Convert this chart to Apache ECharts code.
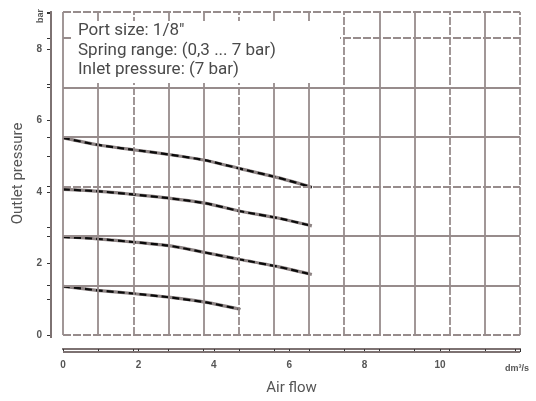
<!DOCTYPE html>
<html>
<head>
<meta charset="utf-8">
<script src="https://cdn.jsdelivr.net/npm/echarts@6/dist/echarts.min.js"></script>
<style>
  html, body { margin: 0; padding: 0; background: #fff; }
  #main { width: 536px; height: 401px; }
</style>
</head>
<body>
<div id="main"></div>
<script>
// air flow (dm3/s) points, shared by the first three curves
var flow = [0, 0.9, 1.85, 2.85, 3.8, 4.7, 5.7, 6.6];
var flowShort = [0, 0.9, 1.85, 2.85, 3.8, 4.7];
// outlet pressure (bar) for each curve
var curve55 = [5.51, 5.32, 5.18, 5.04, 4.88, 4.65, 4.40, 4.13];
var curve40 = [4.07, 4.02, 3.93, 3.82, 3.68, 3.46, 3.27, 3.05];
var curve27 = [2.74, 2.69, 2.60, 2.49, 2.30, 2.11, 1.91, 1.69];
var curve13 = [1.36, 1.25, 1.16, 1.05, 0.91, 0.72];

var xLabels = [0, 2, 4, 6, 8, 10];
var yLabels = [0, 2, 4, 6, 8];

// the printed grid does not follow the scale: 13 columns, 6.5 rows
var gridCols = 13;
var gridRows = 6.52;

var infoLines = ['Port size: 1/8"', 'Spring range: (0,3 ... 7 bar)', 'Inlet pressure: (7 bar)'];

var gridColor = '#978c8c';
var axisColor = '#7d7272';
var chart = echarts.init(document.getElementById('main'));

function pairs(xs, ys) {
  return ys.map(function (v, i) { return [xs[i], v]; });
}

// grid lines, every third one dashed like the scan
var gridLines = [];
for (var i = 0; i <= gridCols; i++) {
  var dashedX = (i % 3 === 2) || i === gridCols;
  gridLines.push({ xAxis: i, lineStyle: { type: dashedX ? [8, 2] : 'solid' } });
}
for (var j = 0; j <= 6; j++) {
  gridLines.push({ yAxis: j, lineStyle: { type: (j % 3 === 0) ? [8, 2] : 'solid' } });
}
gridLines.push({ yAxis: gridRows, lineStyle: { type: [8, 2] } });

var curves = [
  pairs(flow, curve55),
  pairs(flow, curve40),
  pairs(flow, curve27),
  pairs(flowShort, curve13)
];

var series = [{
  type: 'line',
  xAxisIndex: 1,
  yAxisIndex: 1,
  data: [],
  silent: true,
  markLine: {
    silent: true,
    symbol: ['none', 'none'],
    label: { show: false },
    lineStyle: { color: gridColor, width: 1.8 },
    data: gridLines
  }
}];

curves.forEach(function (c) {
  // grey smear under the black dashes
  series.push({
    type: 'line', data: c, smooth: 0.2, showSymbol: false, z: 3,
    lineStyle: { color: '#8e8484', width: 3.2 }
  });
  series.push({
    type: 'line', data: c, smooth: 0.2, showSymbol: false, z: 4,
    lineStyle: { color: '#0a0a0a', width: 2.2, type: [7, 4] }
  });
});

var axisLine = { show: true, onZero: false, lineStyle: { color: axisColor, width: 2 } };

var option = {
  animation: false,
  grid: { left: 63, right: 16, top: 12, bottom: 63 },
  xAxis: [{
    type: 'value', min: 0, max: 12.12, interval: 2, position: 'bottom', offset: 14,
    axisLine: axisLine,
    axisTick: { show: true, length: 3, lineStyle: { color: '#333' } },
    axisLabel: {
      color: '#555', fontSize: 10, fontWeight: 'bold', margin: 11,
      formatter: function (v) { return xLabels.indexOf(v) >= 0 ? String(v) : ''; }
    },
    splitLine: { show: false },
    name: 'Air flow', nameLocation: 'middle', nameGap: 32,
    nameTextStyle: { color: '#555', fontSize: 15, fontFamily: 'Roboto' }
  }, {
    type: 'value', min: 0, max: gridCols, interval: 1, position: 'bottom', offset: 14,
    axisLine: axisLine,
    axisTick: { show: true, length: 3, lineStyle: { color: '#333' } },
    axisLabel: { show: false },
    splitLine: { show: false }
  }],
  yAxis: [{
    type: 'value', min: 0, max: 9.03, interval: 1, position: 'left', offset: 12,
    axisLine: axisLine,
    axisTick: { show: true, length: 4, lineStyle: { color: '#333' } },
    axisLabel: {
      color: '#555', fontSize: 10, fontWeight: 'bold', margin: 9,
      formatter: function (v) { return yLabels.indexOf(v) >= 0 ? String(v) : ''; }
    },
    splitLine: { show: false },
    name: 'Outlet pressure', nameLocation: 'middle', nameGap: 25,
    nameTextStyle: { color: '#555', fontSize: 15, fontFamily: 'Roboto' }
  }, {
    type: 'value', min: 0, max: gridRows, interval: 1, position: 'left', offset: 12,
    axisLine: axisLine,
    axisTick: { show: true, length: 4, lineStyle: { color: '#333' } },
    axisLabel: { show: false },
    splitLine: { show: false }
  }],
  graphic: [{
    // separate axis rules below and left of the plot, as in the scan
    type: 'rect', z: 1,
    shape: { x: 63, y: 351, width: 457, height: 2 },
    style: { fill: axisColor }
  }, {
    type: 'rect', z: 1,
    shape: { x: 50, y: 12, width: 2, height: 326 },
    style: { fill: axisColor }
  }, {
    type: 'rect', left: 73, top: 21, z: 50,
    shape: { width: 267, height: 62 },
    style: { fill: '#fff' }
  }, {
    type: 'text', left: 78, top: 21, z: 51,
    style: {
      text: infoLines.join('\n'), fill: '#4a4a4a', fontSize: 17, lineHeight: 19.5,
      fontFamily: 'Roboto'
    }
  }, {
    type: 'text', x: 41, y: 23, z: 51, rotation: Math.PI / 2,
    style: { text: 'bar', fill: '#555', fontSize: 9, fontWeight: 'bold', textAlign: 'left', textVerticalAlign: 'middle' }
  }, {
    type: 'text', left: 505, top: 364, z: 51,
    style: { text: 'dm³/s', fill: '#555', fontSize: 9, fontWeight: 'bold' }
  }],
  series: series
};

chart.setOption(option);
</script>
</body>
</html>
